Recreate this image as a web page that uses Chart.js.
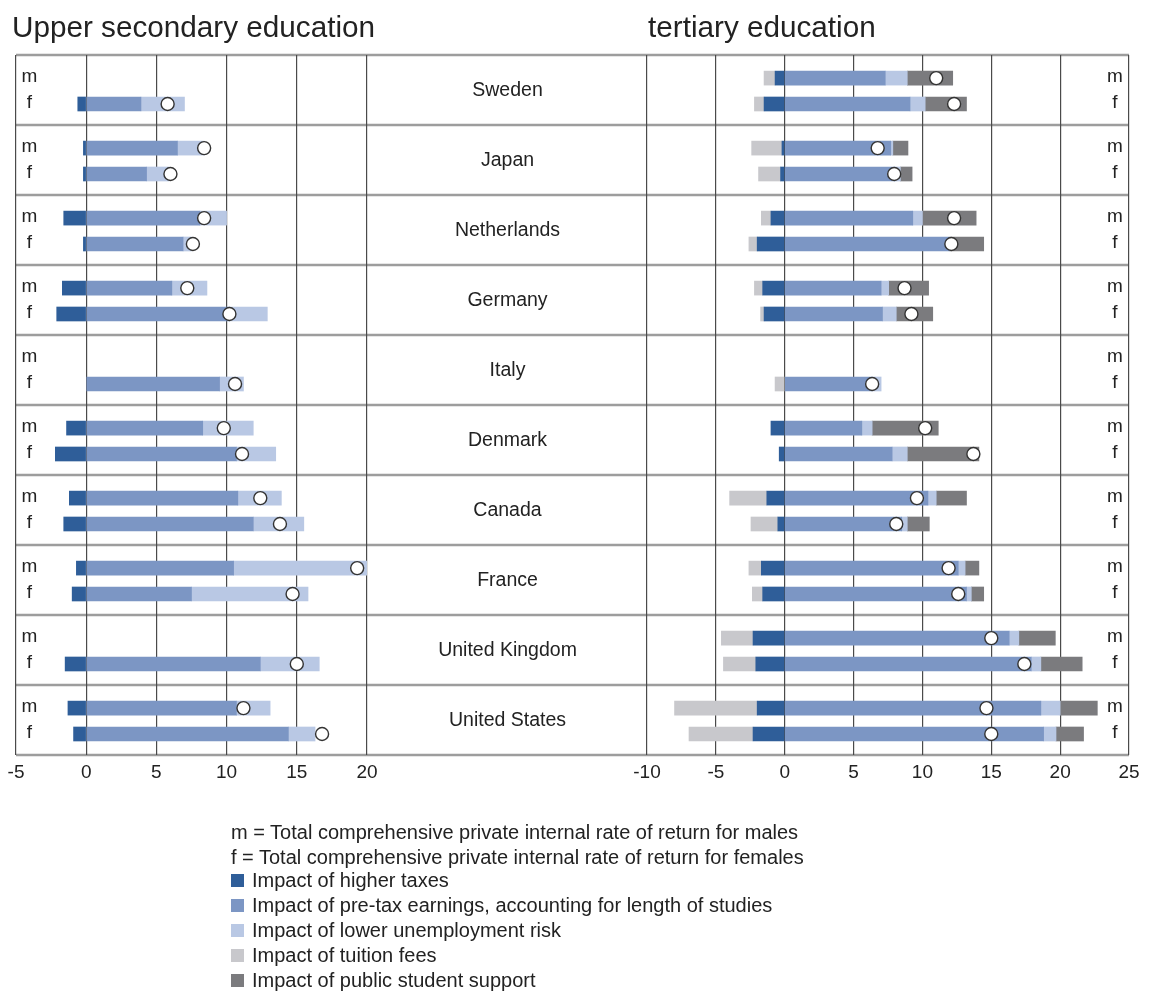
<!DOCTYPE html>
<html>
<head>
<meta charset="utf-8">
<title>Private internal rates of return</title>
<script src="https://cdn.jsdelivr.net/npm/chart.js@4.4.1/dist/chart.umd.min.js"></script>
<style>
  body { margin: 0; background: #fff; font-family: 'Liberation Sans', Arial, sans-serif; color: #222; }
  #wrap { position: relative; width: 1163px; height: 992px; overflow: hidden; }
  #wrap canvas { position: absolute; left: 0; top: 0; }
  .title { position: absolute; top: 12px; font-size: 29.7px; line-height: 30px; white-space: nowrap; }
  #legend { position: absolute; left: 231px; top: 820px; font-size: 20px; line-height: 25px; white-space: nowrap; }
  #legend .item { position: relative; padding-left: 21px; }
  #legend .item.first { margin-top: -2px; }
  #legend .box { position: absolute; left: 0; top: 6px; width: 13px; height: 13px; }
</style>
</head>
<body>
<div id="wrap">
  <canvas id="secChart" width="1163" height="992"></canvas>
  <canvas id="terChart" width="1163" height="992"></canvas>
  <div class="title" style="left: 12px;">Upper secondary education</div>
  <div class="title" style="left: 648px;">tertiary education</div>
  <div id="legend"></div>
</div>
<script>
// ---- data (percent); null = no figure for that row ----
const countries = ['Sweden', 'Japan', 'Netherlands', 'Germany', 'Italy', 'Denmark', 'Canada', 'France', 'United Kingdom', 'United States'];

// upper secondary education
const secTaxesM = [null, -0.2, -1.6, -1.7, null, -1.4, -1.2, -0.7, null, -1.3];
const secTaxesF = [-0.6, -0.2, -0.2, -2.1, null, -2.2, -1.6, -1.0, -1.5, -0.9];
const secEarningsM = [null, 6.5, 8.1, 6.1, null, 8.3, 10.8, 10.5, null, 10.7];
const secEarningsF = [3.9, 4.3, 6.9, 10.2, 9.5, 10.7, 11.9, 7.5, 12.4, 14.4];
const secUnemploymentM = [null, 1.9, 1.9, 2.5, null, 3.6, 3.1, 9.5, null, 2.4];
const secUnemploymentF = [3.1, 1.6, 0.6, 2.7, 1.7, 2.8, 3.6, 8.3, 4.2, 1.9];
const secTotalM = [null, 8.4, 8.4, 7.2, null, 9.8, 12.4, 19.3, null, 11.2];
const secTotalF = [5.8, 6.0, 7.6, 10.2, 10.6, 11.1, 13.8, 14.7, 15.0, 16.8];

// tertiary education
const terTaxesM = [-0.7, -0.2, -1.0, -1.6, null, -1.0, -1.3, -1.7, -2.3, -2.0];
const terTaxesF = [-1.5, -0.3, -2.0, -1.5, null, -0.4, -0.5, -1.6, -2.1, -2.3];
const terEarningsM = [7.3, 7.7, 9.3, 7.0, null, 5.6, 10.4, 12.6, 16.3, 18.6];
const terEarningsF = [9.1, 8.0, 12.0, 7.1, 6.3, 7.8, 8.5, 13.2, 17.9, 18.8];
const terUnemploymentM = [1.6, 0.15, 0.7, 0.55, null, 0.75, 0.6, 0.5, 0.7, 1.4];
const terUnemploymentF = [1.1, 0.4, null, 1.0, 0.7, 1.1, 0.4, 0.35, 0.7, 0.9];
const terTuitionM = [-0.8, -2.2, -0.7, -0.6, null, null, -2.7, -0.9, -2.3, -6.0];
const terTuitionF = [-0.7, -1.6, -0.6, -0.25, -0.7, null, -1.95, -0.75, -2.35, -4.65];
const terSupportM = [3.3, 1.1, 3.9, 2.9, null, 4.8, 2.2, 1.0, 2.65, 2.7];
const terSupportF = [3.0, 0.85, 2.45, 2.65, null, 5.2, 1.6, 0.9, 3.0, 2.0];
const terTotalM = [11.0, 6.75, 12.3, 8.7, null, 10.2, 9.6, 11.9, 15.0, 14.65];
const terTotalF = [12.3, 7.95, 12.1, 9.2, 6.35, 13.7, 8.1, 12.6, 17.4, 15.0];

const seriesNames = {
  taxes: 'Impact of higher taxes',
  earnings: 'Impact of pre-tax earnings, accounting for length of studies',
  unemployment: 'Impact of lower unemployment risk',
  tuition: 'Impact of tuition fees',
  support: 'Impact of public student support'
};
const colors = {
  taxes: '#2f5e99',
  earnings: '#7c96c4',
  unemployment: '#b9c8e4',
  tuition: '#c8c8cc',
  support: '#7b7b7e'
};

// layout of the framed area (canvas pixels)
const FRAME = { left: 16, right: 1129, top: 55, bottom: 755, secRight: 367, terLeft: 647 };
const CANVAS_W = 1163, CANVAS_H = 992, AXIS_H = 40;
const NAME_X = 507.5;
// position of the m / f bars inside a country band (0 = top, 1 = bottom)
const M_POS = 0.33, F_POS = 0.70;
const FONT = '"Liberation Sans", Arial, sans-serif';

function rows(mVals, fVals) {
  const out = [];
  countries.forEach((c, i) => {
    if (mVals[i] != null) out.push({ x: mVals[i], y: i + M_POS });
    if (fVals[i] != null) out.push({ x: fVals[i], y: i + F_POS });
  });
  return out;
}

function barSet(key, mVals, fVals) {
  return {
    type: 'bar',
    label: seriesNames[key],
    data: rows(mVals, fVals),
    backgroundColor: colors[key],
    borderWidth: 0,
    barThickness: 14,
    stack: 'impact',
    indexAxis: 'y'
  };
}

function totalSet(mVals, fVals) {
  return {
    type: 'scatter',
    label: 'Total',
    data: rows(mVals, fVals),
    pointRadius: 6.5,
    pointBackgroundColor: '#fff',
    pointBorderColor: '#333',
    pointBorderWidth: 1.4,
    order: -1
  };
}

// band separators, country names and m/f markers
const rowFrame = {
  id: 'rowFrame',
  beforeDraw(chart, args, opts) {
    if (!opts.bands) return;
    const { ctx } = chart;
    const y = chart.scales.y;
    ctx.save();
    ctx.strokeStyle = '#9d9d9d';
    ctx.lineWidth = 2.5;
    for (let i = 0; i <= countries.length; i++) {
      const py = y.getPixelForValue(i);
      ctx.beginPath();
      ctx.moveTo(FRAME.left, py);
      ctx.lineTo(FRAME.right, py);
      ctx.stroke();
    }
    ctx.restore();
  },
  afterDraw(chart, args, opts) {
    const { ctx } = chart;
    const y = chart.scales.y;
    ctx.save();
    ctx.fillStyle = '#222';
    ctx.textAlign = 'center';
    ctx.textBaseline = 'middle';
    if (opts.bands) {
      ctx.font = '19.5px ' + FONT;
      countries.forEach((c, i) => ctx.fillText(c, NAME_X, y.getPixelForValue(i + 0.5) + 1));
    }
    ctx.font = '19px ' + FONT;
    countries.forEach((c, i) => {
      ctx.fillText('m', opts.sexX, y.getPixelForValue(i + M_POS) - 1);
      ctx.fillText('f', opts.sexX, y.getPixelForValue(i + F_POS) - 1);
    });
    ctx.restore();
  }
};

function makePanel(id, xMin, xMax, areaLeft, areaRight, datasets, frameOpts) {
  return new Chart(document.getElementById(id), {
    type: 'bar',
    data: { datasets },
    plugins: [rowFrame],
    options: {
      responsive: false,
      animation: false,
      events: [],
      indexAxis: 'y',
      layout: {
        padding: {
          left: areaLeft,
          right: CANVAS_W - areaRight,
          top: FRAME.top,
          bottom: CANVAS_H - FRAME.bottom - AXIS_H
        }
      },
      plugins: {
        legend: { display: false },
        tooltip: { enabled: false },
        rowFrame: frameOpts
      },
      scales: {
        x: {
          type: 'linear',
          position: 'bottom',
          min: xMin,
          max: xMax,
          stacked: true,
          afterFit: (s) => { s.height = AXIS_H; },
          ticks: { stepSize: 5, color: '#222', padding: 6, font: { size: 19, family: FONT } },
          grid: { color: '#4a4a4a', lineWidth: 1.2, drawTicks: false },
          border: { display: false }
        },
        y: {
          type: 'linear',
          min: 0,
          max: countries.length,
          reverse: true,
          offset: false,
          display: false
        }
      }
    }
  });
}

makePanel('secChart', -5, 20, FRAME.left, FRAME.secRight, [
  totalSet(secTotalM, secTotalF),
  barSet('taxes', secTaxesM, secTaxesF),
  barSet('earnings', secEarningsM, secEarningsF),
  barSet('unemployment', secUnemploymentM, secUnemploymentF)
], { bands: true, sexX: 29.5 });

makePanel('terChart', -10, 25, FRAME.terLeft, FRAME.right, [
  totalSet(terTotalM, terTotalF),
  barSet('taxes', terTaxesM, terTaxesF),
  barSet('earnings', terEarningsM, terEarningsF),
  barSet('unemployment', terUnemploymentM, terUnemploymentF),
  barSet('tuition', terTuitionM, terTuitionF),
  barSet('support', terSupportM, terSupportF)
], { bands: false, sexX: 1115 });

// legend below the panels
const legend = document.getElementById('legend');
legend.innerHTML =
  '<div>m = Total comprehensive private internal rate of return for males</div>' +
  '<div>f = Total comprehensive private internal rate of return for females</div>' +
  Object.keys(seriesNames).map((k, i) =>
    `<div class="item${i === 0 ? ' first' : ''}"><span class="box" style="background:${colors[k]}"></span>${seriesNames[k]}</div>`
  ).join('');
</script>
</body>
</html>
